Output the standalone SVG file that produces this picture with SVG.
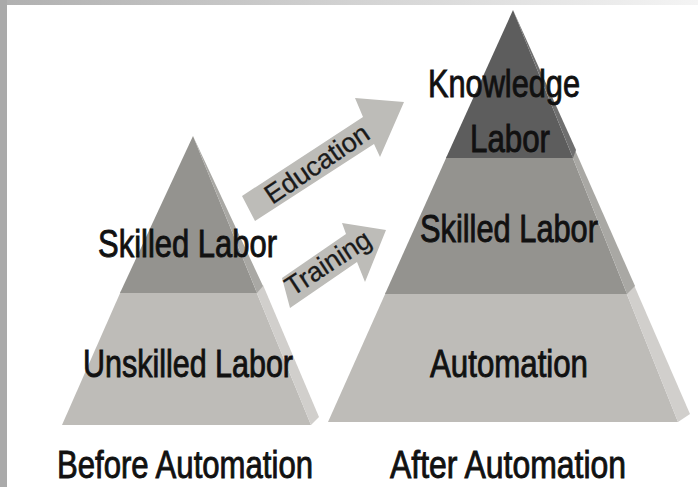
<svg xmlns="http://www.w3.org/2000/svg" width="698" height="487" viewBox="0 0 698 487">
  <defs>
    <linearGradient id="topStrip" x1="0" y1="0" x2="1" y2="0">
      <stop offset="0" stop-color="#b0b0b0"/>
      <stop offset="1" stop-color="#f4f4f4"/>
    </linearGradient>
  </defs>
  <style>
    .lbl { font-family: "Liberation Sans", Arial, sans-serif; font-size: 38px; fill: #111; stroke: #111; stroke-width: 0.9px; text-anchor: start; }
    .alb { font-family: "Liberation Sans", Arial, sans-serif; font-size: 27px; fill: #1a1a1a; stroke: #1a1a1a; stroke-width: 0.3px; text-anchor: middle; }
    .arrow { fill: #bdbcb8; }
    .k-front { fill: #5d5d5d; }
    .k-side { fill: #6f6f6f; }
    .s-front { fill: #94938f; }
    .s-side { fill: #a9a8a4; }
    .u-front { fill: #bebcb8; }
    .u-side { fill: #d1cfcc; }
  </style>

  <rect x="0" y="0" width="698" height="487" fill="#ffffff"/>
  <rect x="0" y="0" width="698" height="5" fill="url(#topStrip)"/>
  <rect x="0" y="0" width="7" height="487" fill="#aaaaaa"/>

  <!-- Left pyramid: Before Automation -->
  <g id="before-unskilled">
    <polygon class="u-front" points="121,291 256,291 311,425 62,425"/>
    <polygon class="u-side" points="256,291 263,285 319,417 311,425"/>
    <text class="lbl" x="83" y="377" textLength="210" lengthAdjust="spacingAndGlyphs">Unskilled Labor</text>
  </g>
  <g id="before-skilled">
    <polygon class="s-front" points="193,136 257,293 120,293"/>
    <polygon class="s-side" points="193,136 263,286 257,293"/>
    <text class="lbl" x="98" y="257" textLength="179" lengthAdjust="spacingAndGlyphs">Skilled Labor</text>
  </g>

  <!-- Right pyramid: After Automation -->
  <g id="after-automation">
    <polygon class="u-front" points="386,292 626,292 678,422 328,422"/>
    <polygon class="u-side" points="626,292 634,285 690,414 678,422"/>
    <text class="lbl" x="430" y="377" textLength="158" lengthAdjust="spacingAndGlyphs">Automation</text>
  </g>
  <g id="after-skilled">
    <polygon class="s-front" points="447,156 572,156 627,294 385,294"/>
    <polygon class="s-side" points="572,156 575,150 635,286 627,294"/>
    <text class="lbl" x="420" y="242" textLength="178" lengthAdjust="spacingAndGlyphs">Skilled Labor</text>
  </g>
  <g id="after-knowledge">
    <polygon class="k-front" points="513,10 573,158 446,158"/>
    <polygon class="k-side" points="513,10 576,150 573,158"/>
    <text class="lbl" x="428" y="97" textLength="152" lengthAdjust="spacingAndGlyphs">Knowledge</text>
    <text class="lbl" x="470" y="152" textLength="80" lengthAdjust="spacingAndGlyphs">Labor</text>
  </g>

  <!-- Connectors -->
  <g id="connectors">
    <g id="edge-education">
      <polygon class="arrow" points="242,196 363,117 355,98 404,102 380,157 374,144 255,221"/>
      <text class="alb" transform="translate(317,164) rotate(-34)" x="0" y="9">Education</text>
    </g>
    <g id="edge-training">
      <polygon class="arrow" points="282,278 346,234 342,223 386,230 365,282 357,262 290,308"/>
      <text class="alb" transform="translate(328,263) rotate(-33)" x="0" y="9">Training</text>
    </g>
  </g>

  <!-- Captions -->
  <g id="caption-before">
    <text class="lbl" x="57" y="478" textLength="256" lengthAdjust="spacingAndGlyphs">Before Automation</text>
  </g>
  <g id="caption-after">
    <text class="lbl" x="390" y="478" textLength="236" lengthAdjust="spacingAndGlyphs">After Automation</text>
  </g>
</svg>
